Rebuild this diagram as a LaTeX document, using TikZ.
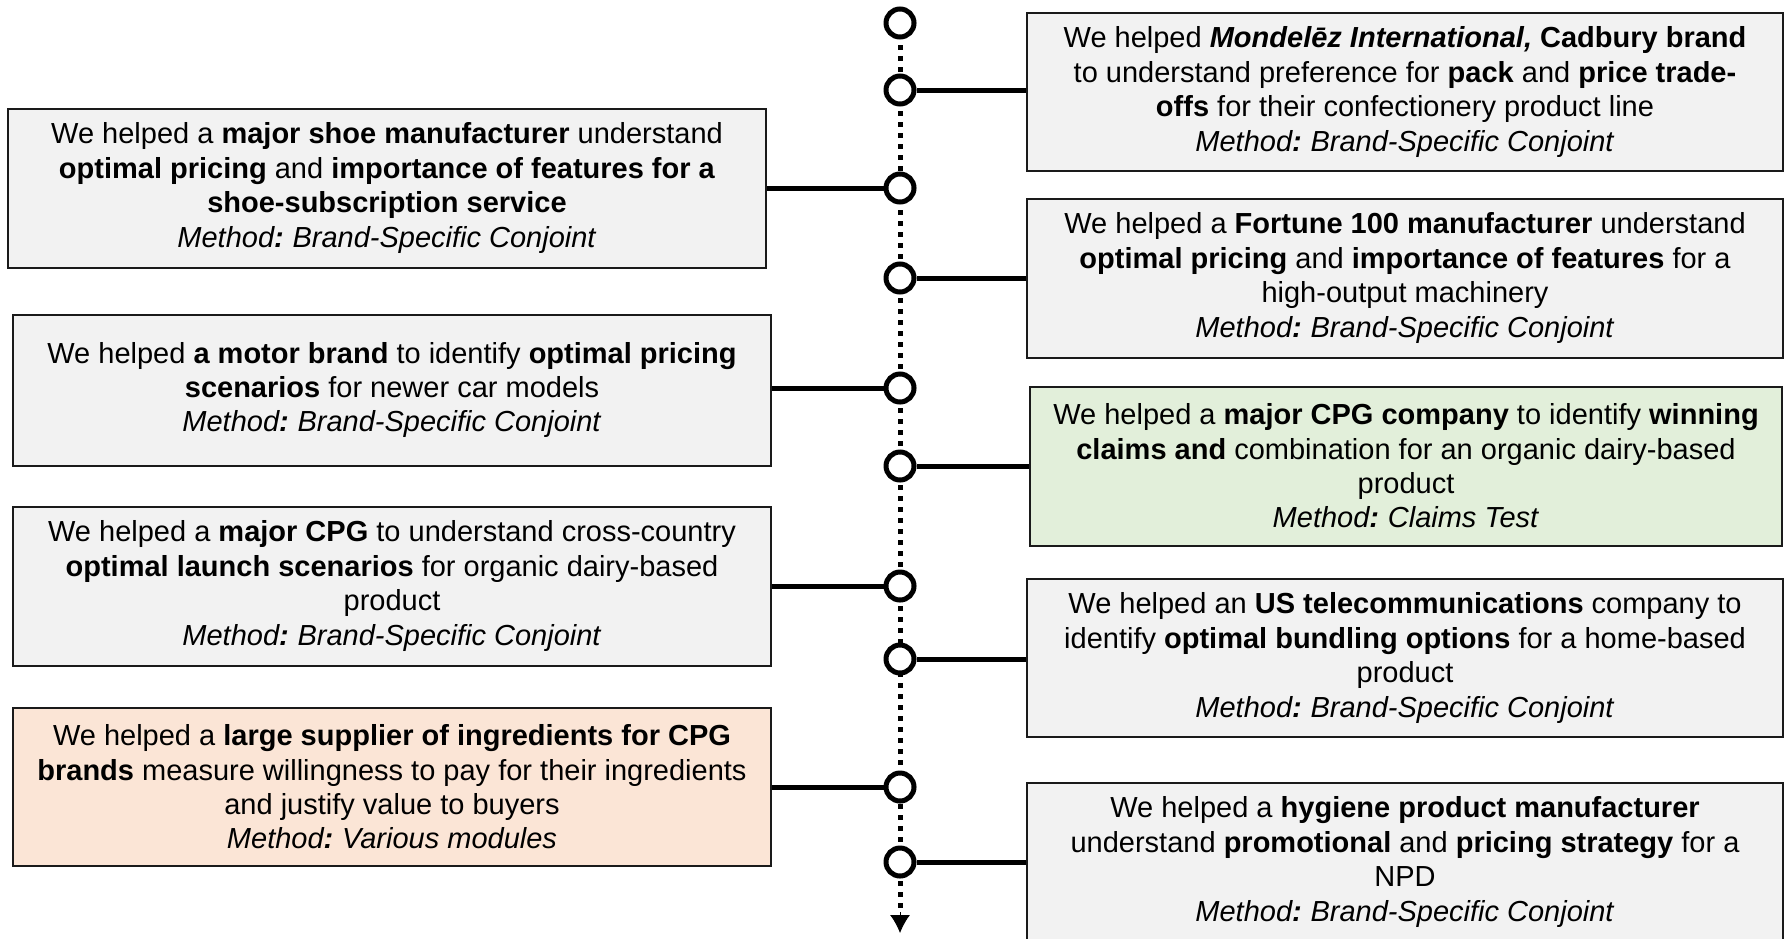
\documentclass[tikz,border=0pt]{standalone}
\usepackage{fontspec}
\setmainfont{Liberation Sans}
\usetikzlibrary{arrows.meta,positioning}
\definecolor{Ink}{HTML}{1A1A1A}
\definecolor{Panel}{HTML}{F2F2F2}
\definecolor{Mint}{HTML}{E2EFDA}
\definecolor{Peach}{HTML}{FBE5D6}
\newcommand{\how}[1]{\textit{Method\textbf{:}\kern-1pt{} #1}}

\begin{document}
\begin{tikzpicture}[x=0.5pt,y=-0.5pt,
      case/.style={draw=Ink,fill=Panel,line width=1pt,align=center,
                   font=\fontsize{14.5}{17.2}\selectfont,inner sep=4pt,
                   minimum width=378pt,minimum height=79pt},
      stop/.style={circle,draw=black,fill=white,line width=2.5pt,
                   minimum size=14pt,inner sep=0pt},
      link/.style={black,line width=2.5pt},
      track/.style={black,line width=2.5pt,dash pattern=on 2.3pt off 3.2pt}]
    \useasboundingbox (0,0) rectangle (1791,938);
    \coordinate (top) at (900,23);
    \coordinate (end) at (900,933);
    \draw[track] (top) -- (900,911);
    \draw[black,line width=0.5pt,-{Latex[length=9pt,width=10pt]}] (900,912) -- (end);
    \node[stop] (t0) at (top) {};
    \node[stop] (t1) at (900,90) {};
    \node[stop] (t2) at (900,188) {};
    \node[stop] (t3) at (900,278) {};
    \node[stop] (t4) at (900,388) {};
    \node[stop] (t5) at (900,466) {};
    \node[stop] (t6) at (900,586) {};
    \node[stop] (t7) at (900,659) {};
    \node[stop] (t8) at (900,787) {};
    \node[stop] (t9) at (900,862) {};
    \node[case] (r1) at (1405,92) {We helped \textbf{\textit{Mondelēz International,}} \textbf{Cadbury brand}\\
      to understand preference for \textbf{pack} and \textbf{price trade-}\\
      \textbf{offs} for their confectionery product line\\
      \how{Brand-Specific Conjoint}};
    \node[case,minimum width=379pt,minimum height=79.5pt] (l1) at (387,188) {We helped a \textbf{major shoe manufacturer} understand\\
      \textbf{optimal pricing} and \textbf{importance of features for a}\\
      \textbf{shoe-subscription service}\\
      \how{Brand-Specific Conjoint}};
    \node[case,minimum height=79.5pt] (r2) at (1405,278) {We helped a \textbf{Fortune 100 manufacturer} understand\\
      \textbf{optimal pricing} and \textbf{importance of features} for a\\
      high-output machinery\\
      \how{Brand-Specific Conjoint}};
    \node[case,minimum width=379pt,minimum height=75.5pt] (l2) at (392,390) {We helped \textbf{a motor brand} to identify \textbf{optimal pricing}\\
      \textbf{scenarios} for newer car models\\
      \how{Brand-Specific Conjoint}};
    \node[case,fill=Mint,minimum width=376pt,minimum height=79.5pt] (r3) at (1406,466) {We helped a \textbf{major CPG company} to identify \textbf{winning}\\
      \textbf{claims and} combination for an organic dairy-based\\
      product\\
      \how{Claims Test}};
    \node[case,minimum width=379pt,minimum height=79.5pt] (l3) at (392,586) {We helped a \textbf{major CPG} to understand cross-country\\
      \textbf{optimal launch scenarios} for organic dairy-based\\
      product\\
      \how{Brand-Specific Conjoint}};
    \node[case] (r4) at (1405,658) {We helped an \textbf{US telecommunications} company to\\
      identify \textbf{optimal bundling options} for a home-based\\
      product\\
      \how{Brand-Specific Conjoint}};
    \node[case,fill=Peach,minimum width=379pt] (l4) at (392,787) {We helped a \textbf{large supplier of ingredients for CPG}\\
      \textbf{brands} measure willingness to pay for their ingredients\\
      and justify value to buyers\\
      \how{Various modules}};
    \node[case] (r5) at (1405,862) {We helped a \textbf{hygiene product manufacturer}\\
      understand \textbf{promotional} and \textbf{pricing strategy} for a\\
      NPD\\
      \how{Brand-Specific Conjoint}};
    \draw[link] (t1) -- (t1 -| r1.west);
    \draw[link] (t2) -- (t2 -| l1.east);
    \draw[link] (t3) -- (t3 -| r2.west);
    \draw[link] (t4) -- (t4 -| l2.east);
    \draw[link] (t5) -- (t5 -| r3.west);
    \draw[link] (t6) -- (t6 -| l3.east);
    \draw[link] (t7) -- (t7 -| r4.west);
    \draw[link] (t8) -- (t8 -| l4.east);
    \draw[link] (t9) -- (t9 -| r5.west);
\end{tikzpicture}
\end{document}
